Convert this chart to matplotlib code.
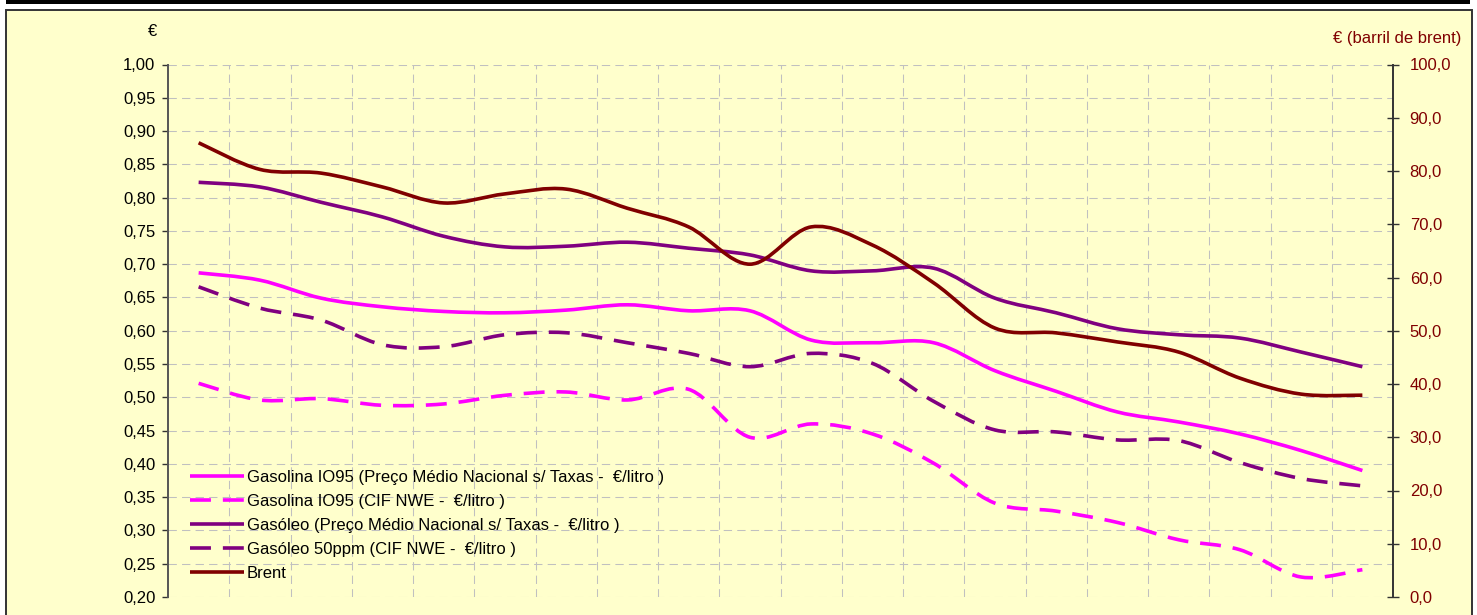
import matplotlib
matplotlib.use("Agg")
import matplotlib.pyplot as plt
from matplotlib.path import Path
from matplotlib.patches import PathPatch, Rectangle
from matplotlib.lines import Line2D
from matplotlib.ticker import FixedLocator, FuncFormatter, MultipleLocator
import numpy as np

plt.rcParams['font.family'] = ['Liberation Sans', 'DejaVu Sans']

# ---------------- data ----------------
periodos = list(range(1, 21))

gasolina_pmn = [0.687, 0.676, 0.649, 0.636, 0.629, 0.627, 0.631, 0.639, 0.630, 0.630,
                0.586, 0.582, 0.582, 0.540, 0.509, 0.478, 0.463, 0.445, 0.420, 0.390]
gasolina_cif = [0.521, 0.496, 0.498, 0.488, 0.490, 0.503, 0.508, 0.496, 0.512, 0.440,
                0.460, 0.445, 0.401, 0.341, 0.329, 0.312, 0.286, 0.271, 0.230, 0.241]
gasoleo_pmn = [0.823, 0.816, 0.793, 0.771, 0.742, 0.726, 0.727, 0.733, 0.724, 0.714,
               0.690, 0.690, 0.694, 0.649, 0.627, 0.603, 0.594, 0.589, 0.568, 0.546]
gasoleo_cif = [0.666, 0.634, 0.616, 0.579, 0.576, 0.594, 0.597, 0.582, 0.566, 0.546,
               0.566, 0.551, 0.494, 0.451, 0.448, 0.436, 0.435, 0.402, 0.378, 0.367]
brent = [85.3, 80.3, 79.6, 77.0, 74.0, 75.7, 76.6, 73.0, 69.5, 62.5,
         69.5, 66.1, 59.0, 50.5, 49.6, 47.9, 46.0, 41.1, 38.1, 37.9]

labels = [
    "Gasolina IO95 (Preço Médio Nacional s/ Taxas -  €/litro )",
    "Gasolina IO95 (CIF NWE -  €/litro )",
    "Gasóleo (Preço Médio Nacional s/ Taxas -  €/litro )",
    "Gasóleo 50ppm (CIF NWE -  €/litro )",
    "Brent",
]

# ---------------- style ----------------
W, H = 1477, 615
DPI = 100
BG = '#FFFFCC'
MAGENTA = '#FF00FF'
PURPLE = '#800080'
DARKRED = '#800000'
GRID = '#C0C0C0'
LW = 2.6
DASH = (0, (5.8, 3.3))
FS = 12


def smooth_path(xs, ys):
    """Catmull-Rom smoothed path expressed as cubic Bezier segments (data coords)."""
    pts = np.column_stack([xs, ys]).astype(float)
    n = len(pts)
    verts = [pts[0]]
    codes = [Path.MOVETO]
    for i in range(n - 1):
        p0 = pts[i - 1] if i > 0 else pts[i]
        p1 = pts[i]
        p2 = pts[i + 1]
        p3 = pts[i + 2] if i + 2 < n else pts[i + 1]
        c1 = p1 + (p2 - p0) / 6.0
        c2 = p2 - (p3 - p1) / 6.0
        verts += [c1, c2, p2]
        codes += [Path.CURVE4] * 3
    return Path(verts, codes)


fig = plt.figure(figsize=(W / DPI, H / DPI), dpi=DPI)
fig.patch.set_facecolor('white')

# outer frame: black band + yellow panel with border
fig.patches.append(Rectangle((6 / W, 1 - 4 / H), 1464 / W, 4 / H, transform=fig.transFigure,
                             facecolor='black', edgecolor='none', zorder=-10))
fig.patches.append(Rectangle((6 / W, -0.05), 1466 / W, 1 - 10 / H + 0.05, transform=fig.transFigure,
                             facecolor=BG, edgecolor='#333333', linewidth=1.4, zorder=-10))

left, right = 168 / W, 1393 / W
top, bottom = 1 - 64.5 / H, 1 - 597 / H
ax = fig.add_axes([left, bottom, right - left, top - bottom])
ax.set_facecolor('none')
ax2 = ax.twinx()
ax2.set_facecolor('none')

x = np.arange(len(periodos))
ax.set_xlim(-0.5, len(periodos) - 0.5)
ax.set_ylim(0.20, 1.00)
ax2.set_ylim(0, 100)

# grid
ax.yaxis.set_major_locator(MultipleLocator(0.05))
ax.xaxis.set_major_locator(FixedLocator([]))
for yv in np.arange(0.20, 1.0001, 0.05):
    ax.axhline(yv, color=GRID, lw=0.75, dashes=(8, 5), zorder=0.5)
for xv in np.arange(0.5, len(periodos) - 0.5, 1.0):
    ax.axvline(xv, color=GRID, lw=0.75, dashes=(8, 5), zorder=0.5)

# spines
for a in (ax, ax2):
    for s in ('top', 'bottom'):
        a.spines[s].set_visible(False)
ax.spines['right'].set_visible(False)
ax2.spines['left'].set_visible(False)
ax.spines['left'].set_color('#555555')
ax.spines['left'].set_linewidth(1.4)
ax2.spines['right'].set_color('#333333')
ax2.spines['right'].set_linewidth(1.4)

ax.tick_params(axis='x', which='both', length=0, labelbottom=False)
ax.tick_params(axis='y', direction='out', length=4, width=1, color='#333333',
               labelsize=FS, labelcolor='black', pad=5)
ax.yaxis.set_major_formatter(FuncFormatter(lambda v, p: f"{v:.2f}".replace('.', ',')))
ax2.yaxis.set_major_locator(MultipleLocator(10))
ax2.tick_params(axis='y', direction='inout', length=8, width=1, color='#333333',
                labelsize=FS, labelcolor=DARKRED, pad=8)
ax2.yaxis.set_major_formatter(FuncFormatter(lambda v, p: f"{v:.1f}".replace('.', ',')))

# series
series = [
    (ax, gasolina_pmn, MAGENTA, '-'),
    (ax, gasolina_cif, MAGENTA, DASH),
    (ax, gasoleo_pmn, PURPLE, '-'),
    (ax, gasoleo_cif, PURPLE, DASH),
    (ax2, brent, DARKRED, '-'),
]
handles = []
for (a, vals, col, ls), lab in zip(series, labels):
    patch = PathPatch(smooth_path(x, vals), facecolor='none', edgecolor=col,
                      linewidth=LW, linestyle=ls, capstyle='butt', joinstyle='round', zorder=3)
    a.add_patch(patch)
    handles.append(Line2D([], [], color=col, lw=LW, linestyle=ls, solid_capstyle='butt',
                          dash_capstyle='butt', label=lab))

leg = fig.legend(handles=handles, loc='center left',
                 bbox_to_anchor=(190 / W, 1 - 525.5 / H), frameon=False,
                 fontsize=FS, handlelength=3.24, handletextpad=0.18,
                 labelspacing=0.54, borderpad=0, borderaxespad=0)

# axis titles
fig.text(153 / W, 1 - 32 / H, '€', ha='center', va='center', fontsize=FS, color='black')
fig.text(1461 / W, 1 - 38 / H, '€ (barril de brent)', ha='right', va='center',
         fontsize=FS, color=DARKRED)

fig.savefig('out.png', dpi=DPI, facecolor='white')
